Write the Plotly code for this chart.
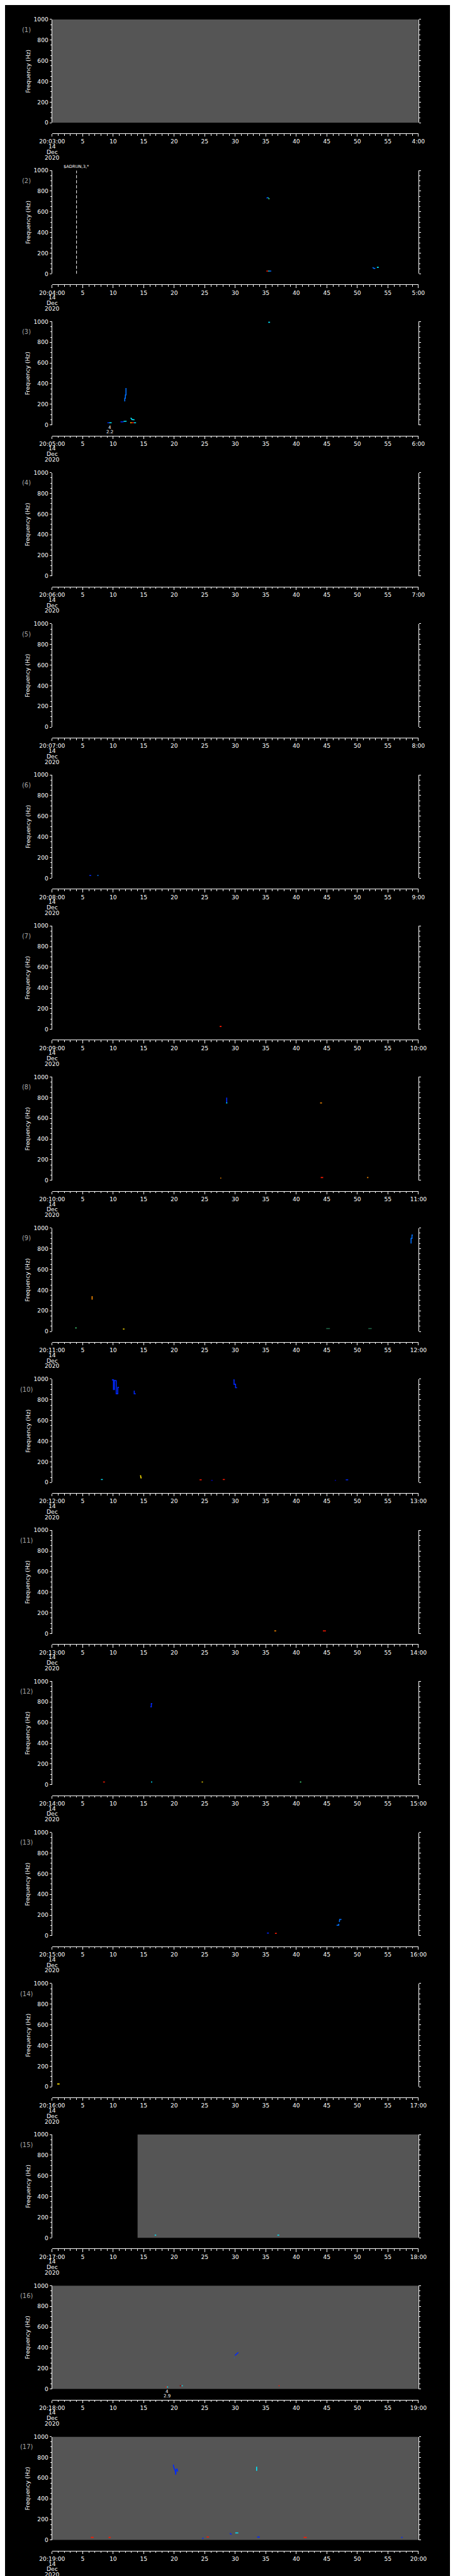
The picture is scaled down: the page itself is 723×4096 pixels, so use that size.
import plotly.graph_objects as go

# ---------------- data ----------------
panel_numbers = list(range(1, 18))
panel_start_labels = ["20:03:00", "20:04:00", "20:05:00", "20:06:00", "20:07:00", "20:08:00",
                      "20:09:00", "20:10:00", "20:11:00", "20:12:00", "20:13:00", "20:14:00",
                      "20:15:00", "20:16:00", "20:17:00", "20:18:00", "20:19:00"]
panel_end_labels = ["4:00", "5:00", "6:00", "7:00", "8:00", "9:00", "10:00", "11:00", "12:00",
                    "13:00", "14:00", "15:00", "16:00", "17:00", "18:00", "19:00", "20:00"]
x_mid_labels = ["5", "10", "15", "20", "25", "30", "35", "40", "45", "50", "55"]
x_tick_seconds = [0, 5, 10, 15, 20, 25, 30, 35, 40, 45, 50, 55, 60]
date_lines = ["14", "Dec", "2020"]
y_tick_values = [0, 200, 400, 600, 800, 1000]
y_tick_labels = ["0", "200", "400", "600", "800", "1000"]

# gray (no-data) spans: panel, start second, end second
gray_panel = [1, 15, 16, 17]
gray_t0 = [0, 14.0, 0, 0]
gray_t1 = [60, 60, 60, 60]

# event markers (dashed line)
event_panel = [2]
event_t = [4.0]
event_label = ["$ADRUN,3,*"]

# small numeric annotations below panels
note_panel = [3, 16]
note_t = [9.46, 18.8]
note_top = ["4", "4"]
note_bottom = ["2.2", "2.9"]

# spectral features: panel, times (s), frequencies (Hz), colour key
feat_panel = [2, 2, 2, 2, 2, 2, 2, 2,
              3, 3, 3, 3, 3, 3, 3, 3, 3, 3,
              6, 6,
              7,
              8, 8, 8, 8, 8, 8,
              9, 9, 9, 9, 9, 9,
              10, 10, 10, 10, 10, 10, 10, 10, 10, 10,
              11, 11,
              12, 12, 12, 12, 12,
              13, 13, 13, 13, 13,
              14,
              15, 15,
              16, 16, 16, 16, 16, 16, 16,
              17, 17, 17, 17, 17, 17, 17, 17, 17, 17, 17]
feat_t = [[35.1, 35.3], [35.3, 35.45], [35.45, 35.6], [35.1, 35.4], [35.4, 35.6], [35.6, 35.9],
          [52.5, 52.75, 52.95], [53.2, 53.5],
          [35.4, 35.7], [9.05, 9.35], [9.35, 9.75], [12.1, 12.1, 12.0, 12.0, 11.9, 11.9],
          [11.2, 11.7], [11.7, 12.2], [12.85, 12.95, 13.1, 13.5], [12.8, 13.0], [13.0, 13.4], [13.4, 13.75],
          [6.1, 6.4], [7.4, 7.6],
          [27.45, 27.75],
          [28.6, 28.6], [28.5, 28.7], [43.9, 44.2], [27.55, 27.7], [44.0, 44.4], [51.6, 51.8],
          [58.8, 58.8, 58.95, 58.95, 59.1], [6.55, 6.55], [3.8, 4.0], [11.6, 11.85], [44.9, 45.5], [51.8, 52.35],
          [9.8, 10.05, 10.05, 10.2, 10.2, 10.5, 10.5, 10.75, 10.75, 10.95], [13.45, 13.45, 13.7],
          [29.7, 29.8, 29.8, 30.05, 30.05, 30.3], [8.0, 8.3], [14.4, 14.5, 14.55, 14.65], [24.15, 24.5],
          [26.05, 26.3], [27.95, 28.3], [46.3, 46.5], [48.1, 48.5],
          [36.4, 36.7], [44.35, 44.85],
          [16.1, 16.25, 16.25, 16.4], [8.35, 8.65], [16.2, 16.4], [24.5, 24.7], [40.6, 40.8],
          [35.2, 35.5], [36.5, 36.8], [46.6, 46.95, 46.95], [47.05, 47.1, 47.4], [60.7, 61.3],
          [0.83, 1.22],
          [16.8, 17.05], [36.9, 37.2],
          [29.95, 30.5], [29.8, 29.85], [18.6, 18.8], [18.8, 19.0], [20.9, 21.2], [21.2, 21.4], [37.1, 37.25],
          [19.85, 19.95, 20.1, 20.2, 20.25, 20.3, 20.45, 20.55, 20.65], [33.5, 33.5], [6.35, 6.8], [9.25, 9.6],
          [24.6, 24.8], [25.3, 25.7], [29.1, 29.25, 29.4], [30.0, 30.5], [33.6, 34.0], [41.2, 41.7], [57.2, 57.4]]
feat_f = [[733, 738], [738, 735], [728, 725], [27, 27], [27, 27], [27, 27],
          [62, 52, 55], [63, 63],
          [994, 994], [21, 21], [21, 21], [357, 290, 290, 258, 258, 228],
          [30, 30], [35, 36], [64, 64, 52, 50], [21, 21], [21, 21], [21, 21],
          [27, 27], [27, 27],
          [27, 27],
          [800, 752], [749, 749], [749, 749], [22, 22], [27, 27], [27, 27],
          [850, 900, 900, 933, 933], [341, 308], [34, 34], [23, 23], [28, 28], [28, 28],
          [993, 993, 900, 900, 988, 985, 858, 858, 920, 920], [889, 858, 858],
          [993, 993, 950, 950, 918, 918], [29, 29], [66, 66, 45, 43], [26, 26],
          [21, 21], [29, 29], [21, 21], [26, 26],
          [26, 26], [26, 26],
          [754, 754, 784, 784], [26, 26], [26, 26], [26, 26], [26, 26],
          [26, 26], [23, 23], [102, 102, 115], [133, 158, 158], [26, 26],
          [28, 28],
          [27, 27], [27, 27],
          [324, 354], [301, 301], [19, 19], [19, 19], [31, 31], [31, 31], [31, 31],
          [730, 700, 680, 660, 632, 680, 690, 667, 667], [710, 670], [26, 26], [26, 26],
          [17, 17], [30, 30], [65, 60, 56], [69, 69], [29, 29], [26, 26], [26, 26]]
feat_color = ["b", "c", "g", "r", "c", "lb", "lb", "c",
              "c", "b", "c", "lb", "b", "c", "c", "y", "r", "c",
              "b", "lb",
              "r",
              "b", "c", "o", "o", "r", "o",
              "lb", "o", "g", "y", "dg", "dg",
              "b", "b", "b", "c", "y", "r", "db", "r", "db", "b",
              "o", "r",
              "b", "r", "c", "y", "g",
              "b", "r", "lb", "lb", "r",
              "y",
              "c", "c",
              "b", "lb", "r", "c", "dr", "c", "r",
              "b", "c", "r", "r", "b", "r", "b", "c", "b", "r", "b"]

jet = {"db": "#00008f", "b": "#0028ff", "lb": "#0070ff", "c": "#00e8ff", "g": "#50ff90",
       "dg": "#1f6a48", "y": "#ffe000", "o": "#ff8c00", "r": "#ff1800", "dr": "#9a0000"}

# ---------------- layout ----------------
W, H = 1024.0, 5802.0
S = 723.0 / 1024.0
FONT = "DejaVu Sans"
X_LEFT, X_RIGHT = 80.0, 945.0
PANEL_H = 233.4
PITCH = 341.2
TOP0 = 24.0


def py(yref):
    return 1 - yref / H


fig = go.Figure()
layout = dict(width=723, height=4096, margin=dict(l=0, r=0, t=0, b=0),
              paper_bgcolor="black", plot_bgcolor="black", showlegend=False)
annotations = []
shapes = []

for i, k in enumerate(panel_numbers):
    top = TOP0 + i * PITCH
    bot = top + PANEL_H
    axis_y = bot + 24
    xs = "" if k == 1 else str(k)
    ticktext = [panel_start_labels[i]] + x_mid_labels + [panel_end_labels[i]]
    layout["xaxis" + xs] = dict(
        domain=[X_LEFT / W, X_RIGHT / W], range=[0, 60], anchor="free", position=py(axis_y),
        showline=True, linecolor="white", linewidth=1, showgrid=False, zeroline=False,
        ticks="outside", ticklen=6 * S, tickwidth=1, tickcolor="white",
        tickmode="array", tickvals=x_tick_seconds, ticktext=ticktext,
        tickfont=dict(family=FONT, size=13 * S, color="white"),
        minor=dict(tickmode="array", tickvals=list(range(0, 61)), ticks="outside",
                   ticklen=3.5 * S, tickwidth=1, tickcolor="white", showgrid=False),
        fixedrange=True)
    layout["yaxis" + xs] = dict(
        domain=[py(bot), py(top)], range=[0, 1000], anchor="x" + xs,
        showline=True, linecolor="white", linewidth=1, mirror="ticks",
        showgrid=False, zeroline=False,
        ticks="outside", ticklen=4.5 * S, tickwidth=1, tickcolor="white",
        tickmode="array", tickvals=y_tick_values, ticktext=y_tick_labels,
        tickfont=dict(family=FONT, size=13 * S, color="white"),
        minor=dict(tickmode="array", tickvals=list(range(0, 1001, 50)), ticks="outside",
                   ticklen=3 * S, tickwidth=1, tickcolor="white", showgrid=False),
        fixedrange=True)
    # empty trace to create subplot
    fig.add_trace(go.Scatter(x=[], y=[], xaxis="x" + xs, yaxis="y" + xs, hoverinfo="skip"))

    annotations.append(dict(text="(%d)" % k, xref="paper", yref="paper", x=20 / W, y=py(top + 23),
                            showarrow=False, xanchor="center", yanchor="middle",
                            font=dict(family=FONT, size=14 * S, color="#a8a8a8")))
    annotations.append(dict(text="Frequency (Hz)", xref="paper", yref="paper", x=22 / W,
                            y=py(top + PANEL_H / 2), textangle=-90, showarrow=False,
                            xanchor="center", yanchor="middle",
                            font=dict(family=FONT, size=13 * S, color="white")))
    for j, line in enumerate(date_lines):
        annotations.append(dict(text=line, xref="paper", yref="paper", x=X_LEFT / W,
                                y=py(axis_y + 29 + 12.5 * j), showarrow=False,
                                xanchor="center", yanchor="middle",
                                font=dict(family=FONT, size=13 * S, color="white")))

# gray spans
for p, t0, t1 in zip(gray_panel, gray_t0, gray_t1):
    xs = "" if p == 1 else str(p)
    shapes.append(dict(type="rect", xref="x" + xs, yref="y" + xs, x0=t0, x1=t1, y0=0, y1=1000,
                       fillcolor="#555555", line=dict(width=0), layer="below"))

# event lines
for p, t, lab in zip(event_panel, event_t, event_label):
    xs = "" if p == 1 else str(p)
    fig.add_trace(go.Scatter(x=[t, t], y=[0, 1000], mode="lines", xaxis="x" + xs, yaxis="y" + xs,
                             line=dict(color="white", width=1, dash="5px,3px"), hoverinfo="skip"))
    top = TOP0 + (p - 1) * PITCH
    annotations.append(dict(text=lab, xref="x" + xs, yref="paper", x=t, y=py(top - 8),
                            showarrow=False, xanchor="center", yanchor="middle",
                            font=dict(family=FONT, size=9.5 * S, color="white")))

# notes below panels
for p, t, a, b in zip(note_panel, note_t, note_top, note_bottom):
    xs = "" if p == 1 else str(p)
    bot = TOP0 + (p - 1) * PITCH + PANEL_H
    annotations.append(dict(text=a, xref="x" + xs, yref="paper", x=t, y=py(bot + 6),
                            showarrow=False, xanchor="center", yanchor="middle",
                            font=dict(family=FONT, size=10 * S, color="white")))
    annotations.append(dict(text=b, xref="x" + xs, yref="paper", x=t, y=py(bot + 15),
                            showarrow=False, xanchor="center", yanchor="middle",
                            font=dict(family=FONT, size=10 * S, color="white")))

# features
for p, ts, fs, c in zip(feat_panel, feat_t, feat_f, feat_color):
    xs = "" if p == 1 else str(p)
    if max(ts) > 60:
        fig.add_trace(go.Scatter(x=ts, y=fs, mode="markers", xaxis="x" + xs, yaxis="y" + xs,
                                 cliponaxis=False, hoverinfo="skip",
                                 marker=dict(symbol="line-ew", size=6,
                                             line=dict(color=jet[c], width=1.6))))
    else:
        fig.add_trace(go.Scatter(x=ts, y=fs, mode="lines", xaxis="x" + xs, yaxis="y" + xs,
                                 line=dict(color=jet[c], width=1.6), hoverinfo="skip"))

layout["annotations"] = annotations
layout["shapes"] = shapes
fig.update_layout(**layout)
fig.write_html("out.html")
